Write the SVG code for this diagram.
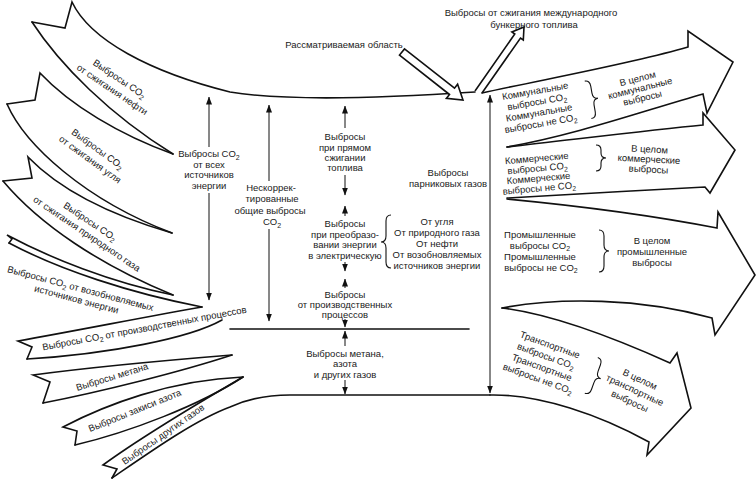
<svg xmlns="http://www.w3.org/2000/svg" width="756" height="482" viewBox="0 0 756 482">
<defs>
<marker id="ah" markerWidth="8" markerHeight="6" refX="7.5" refY="3" orient="auto-start-reverse" markerUnits="userSpaceOnUse"><path d="M0,0 L8,3 L0,6 Z" fill="#111"/></marker>
</defs>
<style>
.b{fill:none;stroke:#111;stroke-width:1.6;stroke-linejoin:miter;stroke-linecap:round}
.h{fill:#fff;stroke:#111;stroke-width:1.6;stroke-linejoin:miter}
.a{fill:none;stroke:#111;stroke-width:1;marker-end:url(#ah)}
.br{fill:none;stroke:#111;stroke-width:1.1}
text{font-family:"Liberation Sans",Arial,sans-serif;font-size:9.5px;fill:#1a1a1a;text-anchor:middle}
.s{font-size:7px}
</style>
<rect width="756" height="482" fill="#fff"/>

<g id="band-oil">
<path class="b" d="M32,22 L65,28 L72,2 C90,40 150,72 230,92 C290,102 400,97 475,92"/>
<path class="b" d="M32,22 C60,65 110,115 173,154"/>
<g transform="translate(116,84) rotate(34)"><text x="0" y="-3">Выбросы CO<tspan class="s" dy="2.5">2</tspan></text><text x="0" y="10">от сжигания нефти</text></g>
</g>
<g id="band-coal">
<path class="b" d="M7,104 L35,100 L40,73 C70,105 120,135 173,154"/>
<path class="b" d="M7,104 C25,145 85,200 172,233"/>
<g transform="translate(94,154) rotate(36)"><text x="0" y="-3">Выбросы CO<tspan class="s" dy="2.5">2</tspan></text><text x="0" y="10">от сжигания угля</text></g>
</g>
<g id="band-gas">
<path class="b" d="M3,181 L32,178 L28,157 C60,190 110,215 172,233"/>
<path class="b" d="M3,181 C40,225 100,265 173,295"/>
<g transform="translate(90,229) rotate(34)"><text x="-4" y="-3">Выбросы CO<tspan class="s" dy="2.5">2</tspan></text><text x="0" y="9">от сжигания природного газа</text></g>
</g>
<g id="band-renewable">
<path class="b" d="M9,243 L12,239 L7,235 C50,258 110,282 173,295"/>
<path class="b" d="M9,243 C60,270 130,293 202,307"/>
<g transform="translate(79,294) rotate(15)"><text x="0" y="-2.5">Выбросы CO<tspan class="s" dy="2.5">2</tspan><tspan dy="-2.5"> от возобновляемых</tspan></text><text x="-1" y="9">источников энергии</text></g>
</g>
<g id="band-process">
<path class="b" d="M27,359 L32,347 L18,341 C80,330 150,316 202,307"/>
<path class="b" d="M27,359 C110,354 190,338 222,320"/>
<text transform="translate(145,331.5) rotate(-10.5)">Выбросы CO<tspan class="s" dy="2.5">2</tspan><tspan dy="-2.5"> от производственных процессов</tspan></text>
</g>
<g id="band-methane">
<path class="b" d="M43,403 L50,382 L33,375 C100,366 170,360 232,355"/>
<path class="b" d="M43,403 C100,392 180,372 232,355"/>
<text transform="translate(113,380) rotate(-17)">Выбросы метана</text>
</g>
<g id="band-nitrous">
<path class="b" d="M75,445 L77,431 L63,427 C105,405 170,380 243,377"/>
<path class="b" d="M75,445 C130,432 200,405 243,377"/>
<text transform="translate(136,413.5) rotate(-22)">Выбросы закиси азота</text>
</g>
<g id="band-other">
<path class="b" d="M112,478 L117,469 L103,465 C140,438 195,405 243,377"/>
<path class="b" d="M112,478 C150,452 195,420 230,407 C245,400 265,395 290,395 L490,395"/>
<text transform="translate(165,437) rotate(-35)">Выбросы других газов</text>
</g>

<g id="separator"><path class="b" d="M230,329 L469,329" stroke-width="2"/></g>

<g id="area-arrow">
<path class="h" d="M404.5,48.9 L454.5,88.2 L457.6,84.2 L463,100 L446.4,98.4 L449.5,94.5 L399.5,55.1 Z"/>
<text x="344" y="47.5">Рассматриваемая область</text>
</g>
<g id="bunker">
<path class="h" d="M475,91 L514.8,34 L511.9,32 L524,27 L523.3,40 L520.5,38 L482,93"/>
<text x="531" y="15.5">Выбросы от сжигания международного</text>
<text x="534" y="27.5">бункерного топлива</text>
</g>

<g id="band-communal">
<path class="b" d="M482,93 C540,80 630,64 688,47 L688,31 L733,62 L707,113 L703,94 C640,112 575,135 507,147"/>
<g transform="translate(538,107) rotate(-10)"><text y="-13">Коммунальные</text><text y="-2">выбросы CO<tspan class="s" dy="2.5">2</tspan></text><text y="9">Коммунальные</text><text y="20">выбросы не CO<tspan class="s" dy="2.5">2</tspan></text></g>
<path class="br" transform="translate(593,99) rotate(-10)" d="M-5,-19 Q0,-19 0,-13 L0,-6 Q0,0 5,0 Q0,0 0,6 L0,13 Q0,19 -5,19"/>
<g transform="translate(640,88) rotate(-14)"><text y="-6.5">В целом</text><text y="3.5">коммунальные</text><text y="13.5">выбросы</text></g>
</g>
<g id="band-commercial">
<path class="b" d="M507,147 C570,140 650,130 703,125 L703,113 L735,150 L710,193 L705,187 C640,190 570,195 507,198"/>
<g transform="translate(538,173) rotate(-5)"><text y="-11.5">Коммерческие</text><text y="-1.5">выбросы CO<tspan class="s" dy="2.5">2</tspan></text><text y="8.5">Коммерческие</text><text y="18.5">выбросы не CO<tspan class="s" dy="2.5">2</tspan></text></g>
<path class="br" transform="translate(601,158)" d="M-5,-13 Q0,-13 0,-8 L0,-5 Q0,0 5,0 Q0,0 0,5 L0,8 Q0,13 -5,13"/>
<g transform="translate(649,159) rotate(3)"><text y="-6.5">В целом</text><text y="3.5">коммерческие</text><text y="13.5">выбросы</text></g>
</g>
<g id="band-industrial">
<path class="b" d="M507,199 C570,205 650,215 717,228 L718,212 L755,275 L715,335 L712,318 C640,298 560,297 502,308"/>
<g><text x="540" y="237.5">Промышленные</text><text x="540" y="248.5">выбросы CO<tspan class="s" dy="2.5">2</tspan></text><text x="540" y="259.5">Промышленные</text><text x="541" y="270.5">выбросы не CO<tspan class="s" dy="2.5">2</tspan></text></g>
<path class="br" transform="translate(604,251)" d="M-5,-21 Q0,-21 0,-15 L0,-6 Q0,0 5,0 Q0,0 0,6 L0,15 Q0,21 -5,21"/>
<g><text x="652" y="243.5">В целом</text><text x="652" y="254.5">промышленные</text><text x="652" y="265.5">выбросы</text></g>
</g>
<g id="band-transport">
<path class="b" d="M502,308 C560,315 630,345 670,363 L677,353 L691,408 L647,455 L649,442 C600,415 540,394 490,395"/>
<g transform="translate(544,361.5) rotate(20)"><text y="-14.5">Транспортные</text><text y="-2.5">выбросы CO<tspan class="s" dy="2.5">2</tspan></text><text y="9.5">Транспортные</text><text y="21.5">выбросы не CO<tspan class="s" dy="2.5">2</tspan></text></g>
<path class="br" transform="translate(596,377) rotate(20)" d="M-5,-19 Q0,-19 0,-13 L0,-6 Q0,0 5,0 Q0,0 0,6 L0,13 Q0,19 -5,19"/>
<g transform="translate(635,390) rotate(25)"><text y="-8.5">В целом</text><text y="3.5">транспортные</text><text y="15.5">выбросы</text></g>
</g>

<g id="n-energy"><text x="209" y="157">Выбросы CO<tspan class="s" dy="2.5">2</tspan></text><text x="209" y="167.5">от всех</text><text x="209" y="178">источников</text><text x="209" y="188.5">энергии</text></g>
<g id="n-uncorrected"><text x="271" y="190.5">Нескоррек-</text><text x="272" y="202">тированные</text><text x="270" y="213.5">общие выбросы</text><text x="272" y="225">CO<tspan class="s" dy="2.5">2</tspan></text></g>
<g id="n-direct"><text x="345" y="140">Выбросы</text><text x="345" y="150.5">при прямом</text><text x="345" y="161">сжигании</text><text x="345" y="171">топлива</text></g>
<g id="n-conversion"><text x="345" y="226.5">Выбросы</text><text x="345" y="237.5">при преобразо-</text><text x="345" y="248">вании энергии</text><text x="345" y="258.5">в электрическую</text></g>
<g id="n-sources">
<path class="br" d="M391,215 Q386,215 386,221 L386,236 Q386,242 381,242 Q386,242 386,248 L386,262 Q386,268 391,268"/>
<text x="437" y="224.5">От угля</text><text x="437" y="235.5">От природного газа</text><text x="437" y="246.5">От нефти</text><text x="437" y="257.5">От возобновляемых</text><text x="437" y="268.5">источников энергии</text>
</g>
<g id="n-ghg"><text x="448" y="175.5">Выбросы</text><text x="448" y="186.5">парниковых газов</text></g>
<g id="n-process"><text x="345" y="297.5">Выбросы</text><text x="345" y="307.5">от производственных</text><text x="345" y="317.5">процессов</text></g>
<g id="n-gases"><text x="345" y="356.5">Выбросы метана,</text><text x="345" y="367">азота</text><text x="345" y="377.5">и других газов</text></g>

<g id="connectors">
<path class="a" d="M209,147 L209,97"/>
<path class="a" d="M209,193 L209,300"/>
<path class="a" d="M269,181 L269,105"/>
<path class="a" d="M269,229 L269,321"/>
<path class="a" d="M345,128 L345,106"/>
<path class="a" d="M345,175 L345,195"/>
<path class="a" d="M345,216 L345,206"/>
<path class="a" d="M345,262 L345,271"/>
<path class="a" d="M345,288 L345,279"/>
<path class="a" d="M345,319 L345,327"/>
<path class="a" d="M345,346 L345,331"/>
<path class="a" d="M345,380 L345,394"/>
<path class="a" d="M490,95 L490,393" marker-start="url(#ah)"/>
</g>
</svg>
